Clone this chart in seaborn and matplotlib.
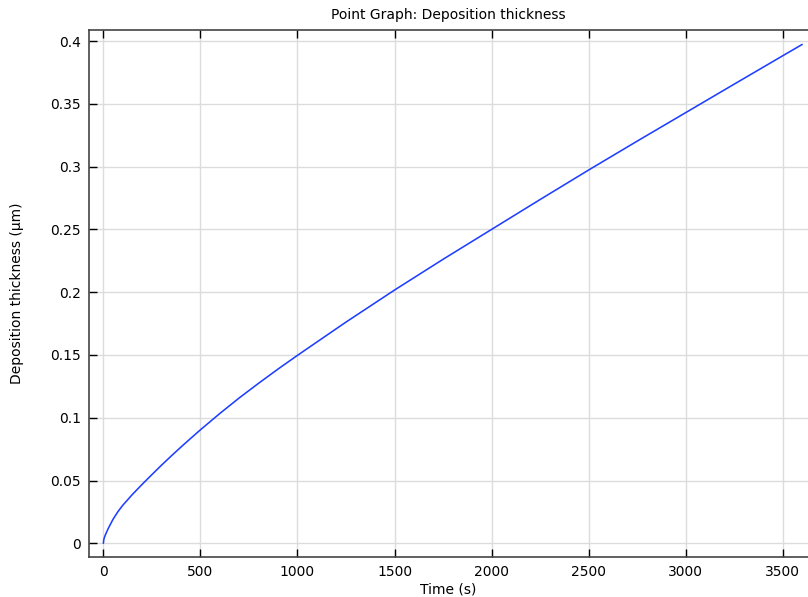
import matplotlib
matplotlib.use("Agg")
import matplotlib.pyplot as plt
import seaborn as sns
import pandas as pd
from matplotlib.ticker import FuncFormatter, FixedLocator

# Data
time_s = [0, 2, 5, 10, 25, 50, 75, 100, 150, 200, 250, 300, 350, 400, 450, 500,
          600, 700, 800, 900, 1000, 1250, 1500, 1750, 2000, 2250, 2500, 2750,
          3000, 3250, 3500, 3600]
thickness_um = [0.0, 0.0028, 0.0045, 0.0066, 0.0118, 0.0192, 0.0252, 0.0303,
                0.0390, 0.0470, 0.0547, 0.0623, 0.0696, 0.0767, 0.0836, 0.0904,
                0.1034, 0.1158, 0.1275, 0.1388, 0.1497, 0.1762, 0.2017, 0.2262,
                0.2500, 0.2738, 0.2973, 0.3203, 0.3430, 0.3657, 0.3883, 0.3973]
x_ticks = [0, 500, 1000, 1500, 2000, 2500, 3000, 3500]
y_ticks = [0, 0.05, 0.1, 0.15, 0.2, 0.25, 0.3, 0.35, 0.4]

df = pd.DataFrame({"Time (s)": time_s, "Deposition thickness (µm)": thickness_um})

sns.set_theme(style="white")
plt.rcParams['font.family'] = ['DejaVu Sans']

fig = plt.figure(figsize=(8.08, 5.97), dpi=100)
ax = fig.add_axes([89/808, 1 - 557/597, (808 - 89)/808, (557 - 30)/597])

sns.lineplot(data=df, x="Time (s)", y="Deposition thickness (µm)", ax=ax,
             color="#1f3fff", linewidth=1.15, sort=False)

ax.set_xlim(-74, 3630)
ax.set_ylim(-0.0109, 0.4088)
ax.xaxis.set_major_locator(FixedLocator(x_ticks))
ax.yaxis.set_major_locator(FixedLocator(y_ticks))
ax.yaxis.set_major_formatter(FuncFormatter(lambda v, p: f"{v:g}"))
ax.xaxis.set_major_formatter(FuncFormatter(lambda v, p: f"{v:g}"))

ax.grid(True, color="#dcdcdc", linewidth=1.0)
ax.set_axisbelow(True)

for side in ["left", "bottom", "top"]:
    ax.spines[side].set_visible(True)
    ax.spines[side].set_color("#444444")
    ax.spines[side].set_linewidth(1.2)
ax.spines["right"].set_visible(False)

ax.tick_params(axis="x", direction="in", length=6, width=1, color="black",
               top=True, bottom=True, labelsize=10, pad=6, labelcolor="black")
ax.tick_params(axis="y", direction="in", length=6, width=1, color="black",
               left=True, right=False, labelsize=10, pad=6, labelcolor="black")

ax.set_title("Point Graph: Deposition thickness", fontsize=10, pad=8, color="black")
ax.set_xlabel("Time (s)", fontsize=10, labelpad=2, color="black")
ax.set_ylabel("Deposition thickness (µm)", fontsize=10, labelpad=19, color="black")

fig.savefig("out.png", dpi=100)
